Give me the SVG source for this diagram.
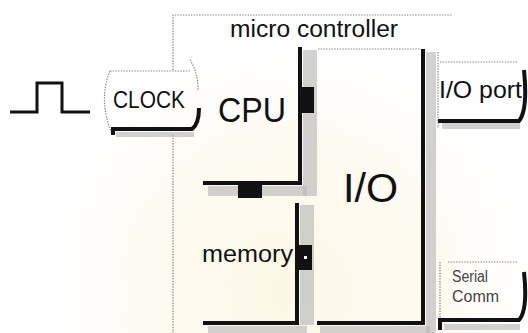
<svg xmlns="http://www.w3.org/2000/svg" width="528" height="333" viewBox="0 0 528 333">
  <defs>
    <radialGradient id="wm" cx="290" cy="290" r="260" gradientUnits="userSpaceOnUse">
      <stop offset="0" stop-color="#fcf6e2" stop-opacity="0.9"/>
      <stop offset="0.6" stop-color="#fdf8ea" stop-opacity="0.6"/>
      <stop offset="1" stop-color="#ffffff" stop-opacity="0"/>
    </radialGradient>
    <style>
      .txt { font-family: "Liberation Sans", "DejaVu Sans", sans-serif; fill: #111; }
      .dot { fill: none; stroke: #8a8a8a; stroke-width: 1.2; stroke-dasharray: 1.5 1.2; }
      .thick { fill: none; stroke: #111; stroke-width: 4; stroke-linejoin: miter; }
      .shadow { fill: #b8b8b8; opacity: 0.65; }
      .port { fill: #111; }
    </style>
  </defs>
  <rect x="0" y="0" width="528" height="333" fill="#ffffff"/>
  <rect x="0" y="0" width="528" height="333" fill="url(#wm)"/>

  <g id="frame">
    <path class="dot" d="M173,70 V15 H452"/>
    <path class="dot" d="M173,135 V333"/>
    <text class="txt" x="230" y="37" font-size="23" textLength="168" lengthAdjust="spacingAndGlyphs">micro controller</text>
  </g>

  <g id="pulse">
    <polyline points="10,112 37,112 37,83 62,83 62,112 90,112" fill="none" stroke="#111" stroke-width="3"/>
  </g>

  <g id="clock">
    <path class="dot" d="M110,71 H190"/>
    <path class="dot" d="M110,71 Q98,100 112,134"/>
    <path class="dot" d="M190,60 Q198,72 198,90"/>
    <rect class="shadow" x="116" y="132" width="78" height="5"/>
    <path class="thick" d="M113,135 V129 H192 Q199,124 199,108" stroke-width="5"/>
    <text class="txt" x="113" y="108" font-size="23" textLength="72" lengthAdjust="spacingAndGlyphs">CLOCK</text>
  </g>

  <g id="cpu">
    <rect class="shadow" x="303" y="50" width="14" height="146"/>
    <rect class="shadow" x="208" y="186" width="99" height="10"/>
    <path class="thick" d="M300,47 V183 H203"/>
    <rect class="port" x="300" y="87" width="14" height="26"/>
    <rect class="port" x="238" y="183" width="24" height="15"/>
    <text class="txt" x="218" y="122" font-size="35" textLength="68" lengthAdjust="spacingAndGlyphs">CPU</text>
  </g>

  <g id="memory">
    <rect class="shadow" x="300" y="205" width="14" height="120"/>
    <rect class="shadow" x="208" y="326" width="99" height="7"/>
    <path class="thick" d="M297,203 V323 H203"/>
    <rect class="port" x="298" y="245" width="14" height="25"/>
    <rect x="304" y="256" width="3" height="3" fill="#ffffff"/>
    <text class="txt" x="202" y="262" font-size="23" textLength="91" lengthAdjust="spacingAndGlyphs">memory</text>
  </g>

  <g id="io">
    <path class="dot" d="M318,49 H421"/>
    <rect class="shadow" x="426" y="52" width="10" height="281"/>
    <rect class="shadow" x="320" y="326" width="110" height="7"/>
    <path class="thick" d="M423,49 V323 H317"/>
    <text class="txt" x="343" y="202" font-size="40" textLength="55" lengthAdjust="spacingAndGlyphs">I/O</text>
  </g>

  <g id="io_port">
    <path class="dot" d="M440,62 H518"/>
    <path class="dot" d="M438,52 V128"/>
    <rect class="shadow" x="442" y="123" width="78" height="6"/>
    <path class="thick" d="M438,121 H519 Q528,110 524,70" stroke-width="5"/>
    <text class="txt" x="439" y="98" font-size="24" textLength="83" lengthAdjust="spacingAndGlyphs">I/O port</text>
  </g>

  <g id="serial_comm">
    <path class="dot" d="M448,262 H518"/>
    <path class="dot" d="M440,262 V318"/>
    <rect class="shadow" x="444" y="324" width="76" height="6"/>
    <path class="thick" d="M440,330 V320 H519 Q528,310 524,272" stroke-width="5"/>
    <text class="txt" x="452" y="282" font-size="16" textLength="36" lengthAdjust="spacingAndGlyphs" style="fill:#444">Serial</text>
    <text class="txt" x="452" y="302" font-size="16" textLength="47" lengthAdjust="spacingAndGlyphs" style="fill:#444">Comm</text>
  </g>

  <g id="connectors"/>
</svg>
